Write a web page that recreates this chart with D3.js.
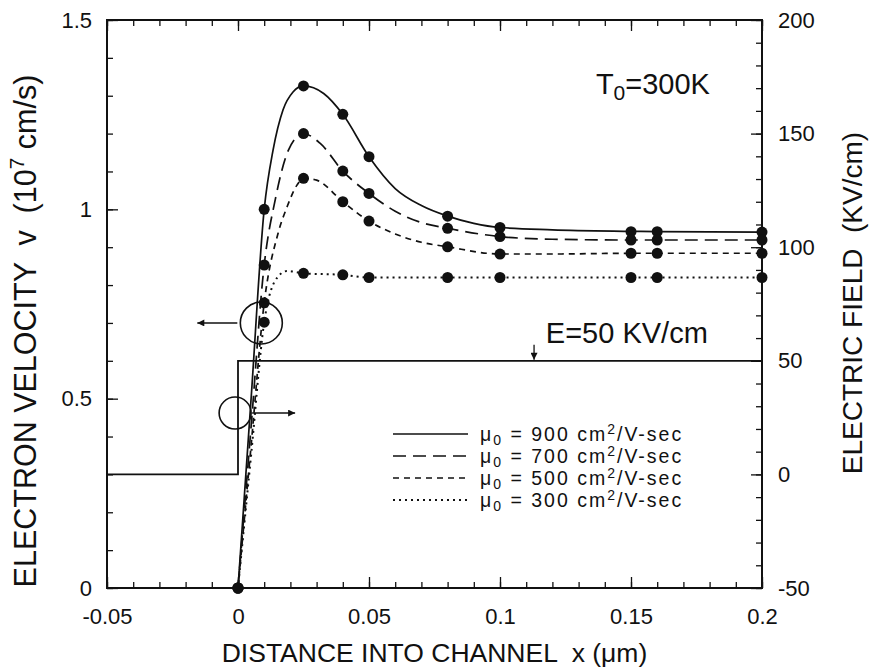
<!DOCTYPE html>
<html><head><meta charset="utf-8">
<script src="https://cdn.jsdelivr.net/npm/d3@7"></script>
<style>
body{margin:0;background:#fff}
svg text{font-family:"Liberation Sans",Arial,Helvetica,sans-serif;fill:#111;white-space:pre}
</style></head>
<body><svg id="chart" width="871" height="669"></svg>
<script>
// ---------- data ----------
const xTickValues = [-0.05, 0, 0.05, 0.1, 0.15, 0.2];
const xTickLabels = ["-0.05", "0", "0.05", "0.1", "0.15", "0.2"];
const vTickValues = [0, 0.5, 1, 1.5];
const vTickLabels = ["0", "0.5", "1", "1.5"];
const eTickValues = [-50, 0, 50, 100, 150, 200];
const eTickLabels = ["-50", "0", "50", "100", "150", "200"];

const seriesNames = ["900", "700", "500", "300"];

// curve shape points (x in µm, v in 1e7 cm/s)
const curveX900 = [0, 0.005, 0.01, 0.0134, 0.0172, 0.021, 0.025, 0.0327, 0.04, 0.05, 0.06, 0.07, 0.08, 0.09, 0.1, 0.12, 0.15, 0.16, 0.2];
const curveV900 = [0, 0.5, 1.0, 1.157, 1.263, 1.31, 1.326, 1.306, 1.251, 1.139, 1.055, 1.01, 0.982, 0.963, 0.952, 0.946, 0.942, 0.941, 0.94];
const curveX700 = [0, 0.005, 0.01, 0.0142, 0.0193, 0.025, 0.0314, 0.04, 0.05, 0.06, 0.07, 0.08, 0.1, 0.12, 0.15, 0.16, 0.2];
const curveV700 = [0, 0.426, 0.853, 1.025, 1.157, 1.2, 1.174, 1.101, 1.042, 0.995, 0.965, 0.95, 0.928, 0.921, 0.919, 0.919, 0.919];
const curveX500 = [0, 0.005, 0.01, 0.0153, 0.0187, 0.0225, 0.025, 0.03, 0.04, 0.05, 0.06, 0.07, 0.08, 0.1, 0.12, 0.15, 0.16, 0.2];
const curveV500 = [0, 0.376, 0.753, 0.937, 1.006, 1.064, 1.082, 1.077, 1.02, 0.969, 0.935, 0.913, 0.901, 0.882, 0.882, 0.884, 0.884, 0.884];
const curveX300 = [0, 0.005, 0.01, 0.015, 0.0187, 0.025, 0.04, 0.05, 0.08, 0.1, 0.15, 0.16, 0.2];
const curveV300 = [0, 0.351, 0.702, 0.82, 0.837, 0.831, 0.827, 0.82, 0.82, 0.82, 0.82, 0.82, 0.82];

// marker positions
const dotX = [0, 0.01, 0.025, 0.04, 0.05, 0.08, 0.1, 0.15, 0.16, 0.2];
const dotV900 = [0, 1.0, 1.326, 1.251, 1.139, 0.982, 0.952, 0.941, 0.941, 0.94];
const dotV700 = [0, 0.853, 1.2, 1.101, 1.042, 0.95, 0.928, 0.919, 0.919, 0.919];
const dotV500 = [0, 0.753, 1.082, 1.02, 0.969, 0.901, 0.882, 0.884, 0.884, 0.884];
const dotV300 = [0, 0.702, 0.831, 0.827, 0.82, 0.82, 0.82, 0.82, 0.82, 0.82];

// electric field profile (KV/cm)
const fieldX = [-0.05, 0, 0, 0.2];
const fieldE = [0, 0, 50, 50];

// ---------- layout ----------
const svg = d3.select("#chart");
const m = {left: 107, right: 762, top: 20, bottom: 588};
const x = d3.scaleLinear().domain([-0.05, 0.2]).range([m.left, m.right]);
const yV = d3.scaleLinear().domain([0, 1.5]).range([m.bottom, m.top]);
const yE = d3.scaleLinear().domain([-50, 200]).range([m.bottom, m.top]);

const ink = "#111";
const dashes = [null, "13,7", "6,5", "2,4"];

// minor / major ticks
const xMinor = d3.range(-0.05, 0.2001, 0.01).map(d => +d.toFixed(3));
const vMinor = d3.range(0, 1.5001, 0.1).map(d => +d.toFixed(2));
const eMinor = d3.range(-50, 200.1, 10);

function styleAxis(g){
  g.select(".domain").remove();
  g.selectAll("line").attr("stroke", ink).attr("stroke-width", 1.3);
  g.selectAll("text").attr("font-size", 22).attr("fill", ink)
    .style("font-family", "'Liberation Sans',Arial,sans-serif");
}
const major = 11, minor = 6;

svg.append("g").attr("transform", `translate(0,${m.bottom})`)
  .call(d3.axisBottom(x).tickValues(xMinor).tickSize(-minor).tickFormat("")).call(styleAxis);
svg.append("g").attr("transform", `translate(0,${m.bottom})`)
  .call(d3.axisBottom(x).tickValues(xTickValues).tickSize(-major).tickPadding(20)
    .tickFormat((d, i) => xTickLabels[i])).call(styleAxis);
svg.append("g").attr("transform", `translate(0,${m.top})`)
  .call(d3.axisTop(x).tickValues(xMinor).tickSize(-minor).tickFormat("")).call(styleAxis);
svg.append("g").attr("transform", `translate(0,${m.top})`)
  .call(d3.axisTop(x).tickValues(xTickValues).tickSize(-major).tickFormat("")).call(styleAxis);

svg.append("g").attr("transform", `translate(${m.left},0)`)
  .call(d3.axisLeft(yV).tickValues(vMinor).tickSize(-minor).tickFormat("")).call(styleAxis);
svg.append("g").attr("transform", `translate(${m.left},0)`)
  .call(d3.axisLeft(yV).tickValues(vTickValues).tickSize(-major).tickPadding(15)
    .tickFormat((d, i) => vTickLabels[i])).call(styleAxis);

svg.append("g").attr("transform", `translate(${m.right},0)`)
  .call(d3.axisRight(yE).tickValues(eMinor).tickSize(-minor).tickFormat("")).call(styleAxis);
svg.append("g").attr("transform", `translate(${m.right},0)`)
  .call(d3.axisRight(yE).tickValues(eTickValues).tickSize(-major).tickPadding(16)
    .tickFormat((d, i) => eTickLabels[i])).call(styleAxis);

// frame
svg.append("rect").attr("x", m.left).attr("y", m.top)
  .attr("width", m.right - m.left).attr("height", m.bottom - m.top)
  .attr("fill", "none").attr("stroke", ink).attr("stroke-width", 2);

// field step
const fieldLine = d3.line().x((d, i) => x(fieldX[i])).y((d, i) => yE(fieldE[i]));
svg.append("path").attr("d", fieldLine(fieldX)).attr("fill", "none")
  .attr("stroke", ink).attr("stroke-width", 1.8);

// velocity curves
const curves = [[curveX900, curveV900], [curveX700, curveV700], [curveX500, curveV500], [curveX300, curveV300]];
const dots = [dotV900, dotV700, dotV500, dotV300];
const vLine = d3.line().x(d => x(d[0])).y(d => yV(d[1])).curve(d3.curveMonotoneX);
curves.forEach((c, s) => {
  const pts = c[0].map((xx, i) => [xx, c[1][i]]);
  svg.append("path").attr("d", vLine(pts)).attr("fill", "none")
    .attr("stroke", ink).attr("stroke-width", s === 3 ? 2 : 1.7)
    .attr("stroke-dasharray", dashes[s]);
});
dots.forEach(dv => {
  svg.append("g").selectAll("circle").data(dotX).join("circle")
    .attr("cx", d => x(d)).attr("cy", (d, i) => yV(dv[i])).attr("r", 5.5).attr("fill", ink);
});

// annotations
svg.append("defs").append("marker").attr("id", "ah").attr("viewBox", "0 0 10 10")
  .attr("refX", 10).attr("refY", 5).attr("markerWidth", 9).attr("markerHeight", 7)
  .attr("markerUnits", "userSpaceOnUse").attr("orient", "auto")
  .append("path").attr("d", "M0,0L10,5L0,10z").attr("fill", ink);

const c1 = {cx: x(0.0089), cy: yV(0.70), r: 21};
svg.append("circle").attr("cx", c1.cx).attr("cy", c1.cy).attr("r", c1.r)
  .attr("fill", "none").attr("stroke", ink).attr("stroke-width", 1.6);
svg.append("line").attr("x1", c1.cx - c1.r - 3).attr("y1", c1.cy).attr("x2", c1.cx - c1.r - 43).attr("y2", c1.cy)
  .attr("stroke", ink).attr("stroke-width", 1.6).attr("marker-end", "url(#ah)");
const c2 = {cx: x(-0.0011), cy: yE(27), r: 16};
svg.append("circle").attr("cx", c2.cx).attr("cy", c2.cy).attr("r", c2.r)
  .attr("fill", "none").attr("stroke", ink).attr("stroke-width", 1.6);
svg.append("line").attr("x1", c2.cx + c2.r + 1).attr("y1", c2.cy).attr("x2", c2.cx + c2.r + 44).attr("y2", c2.cy)
  .attr("stroke", ink).attr("stroke-width", 1.6).attr("marker-end", "url(#ah)");

// E = 50 label + arrow
svg.append("line").attr("x1", x(0.113)).attr("y1", yE(50) - 16).attr("x2", x(0.113)).attr("y2", yE(50) - 1)
  .attr("stroke", ink).attr("stroke-width", 1.3).attr("marker-end", "url(#ah)");
svg.append("text").attr("x", x(0.1175)).attr("y", yE(50) - 18).attr("font-size", 29).text("E=50 KV/cm");

// T0 label
const t0 = svg.append("text").attr("x", x(0.1366)).attr("y", yV(1.305)).attr("font-size", 29);
t0.append("tspan").text("T");
t0.append("tspan").attr("font-size", 21).attr("baseline-shift", "-6").text("0");
t0.append("tspan").text("=300K");

// legend
seriesNames.forEach((n, i) => {
  const ly = 434 + i * 22;
  svg.append("line").attr("x1", 393).attr("x2", 468).attr("y1", ly).attr("y2", ly)
    .attr("stroke", ink).attr("stroke-width", i === 3 ? 2 : 1.7).attr("stroke-dasharray", dashes[i]);
  const t = svg.append("text").attr("x", 480).attr("y", ly + 7).attr("font-size", 19.5)
    .attr("letter-spacing", 2);
  t.append("tspan").text("μ");
  t.append("tspan").attr("font-size", 14).attr("baseline-shift", "-4").text("0");
  t.append("tspan").text(` = ${n} cm`);
  t.append("tspan").attr("font-size", 14).attr("baseline-shift", "7").text("2");
  t.append("tspan").text("/V-sec");
});

// axis titles
svg.append("text").attr("x", (m.left + m.right) / 2).attr("y", 662).attr("text-anchor", "middle")
  .attr("font-size", 26.5).text("DISTANCE INTO CHANNEL  x (μm)");

const lt = svg.append("text").attr("transform", "translate(36,331) rotate(-90)")
  .attr("text-anchor", "middle").attr("font-size", 30.5);
lt.append("tspan").text("ELECTRON VELOCITY  v  (10");
lt.append("tspan").attr("font-size", 21).attr("baseline-shift", "12").text("7");
lt.append("tspan").text(" cm/s)");

svg.append("text").attr("transform", "translate(862,303) rotate(-90)")
  .attr("text-anchor", "middle").attr("font-size", 28).text("ELECTRIC FIELD  (KV/cm)");
</script>
</body></html>
